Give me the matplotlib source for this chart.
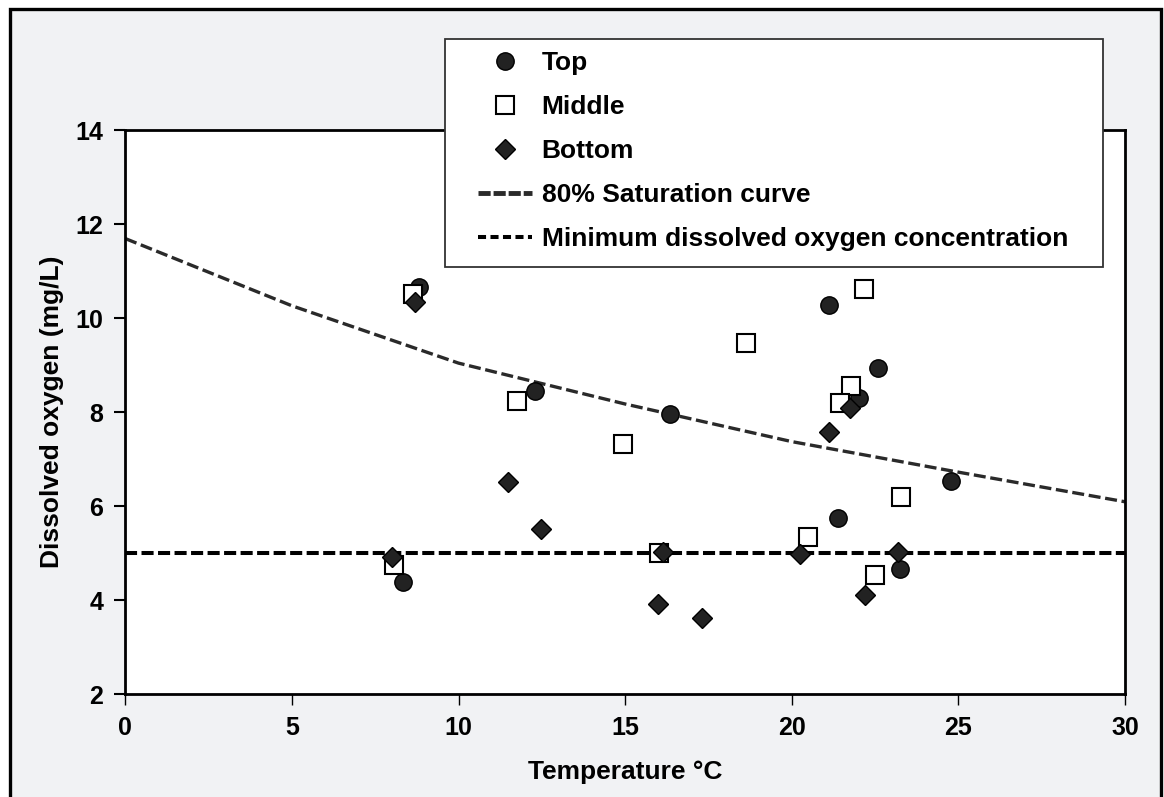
import matplotlib
matplotlib.use("Agg")
import matplotlib.pyplot as plt
from matplotlib.lines import Line2D
from matplotlib.patches import Rectangle

plt.rcParams['font.family'] = ['Liberation Sans', 'DejaVu Sans']
plt.rcParams['font.weight'] = 'bold'

# temperature (C) and dissolved oxygen (mg/L) at each depth
top_temp = [8.81, 8.33, 12.30, 16.35, 21.11, 22.58, 22.03, 24.79, 21.38, 23.26]
top_do = [10.67, 4.38, 8.45, 7.95, 10.28, 8.94, 8.30, 6.53, 5.74, 4.67]

mid_temp = [8.63, 11.76, 14.94, 8.07, 16.01, 22.16, 18.62, 21.77, 21.44, 23.28, 20.49, 22.50]
mid_do = [10.51, 8.24, 7.32, 4.75, 4.99, 10.61, 9.46, 8.55, 8.19, 6.20, 5.34, 4.53]

bot_temp = [8.68, 11.47, 12.47, 7.99, 16.13, 15.99, 17.32, 21.75, 21.11, 20.26, 23.20, 22.20]
bot_do = [10.35, 6.51, 5.51, 4.91, 5.03, 3.91, 3.61, 8.08, 7.57, 4.97, 5.03, 4.10]

# 80% saturation curve
sat_temp = [0, 5, 10, 15, 20, 25, 30]
sat_do = [11.69, 10.26, 9.04, 8.17, 7.37, 6.72, 6.09]

min_do = 5.0

W, H = 1164, 797
fig = plt.figure(figsize=(W / 100, H / 100), dpi=100)
fig.patch.set_facecolor('white')

# grey panel with black border round the chart
fig.add_artist(Rectangle((10 / W, -0.05), (1161 - 10) / W, (H - 9) / H + 0.05,
                         transform=fig.transFigure, facecolor='#f1f2f4',
                         edgecolor='black', lw=2.4, zorder=-2))

ax = fig.add_axes([125.3 / W, (H - 694) / H, (1125 - 125.3) / W, (694 - 130) / H])
ax.set_facecolor('white')

ax.plot(sat_temp, sat_do, color='#2a2a2a', lw=2.4, dashes=(3.6, 1.4), zorder=2)
ax.axhline(min_do, color='black', lw=2.9, dashes=(3.0, 1.1), zorder=2)

ax.plot(top_temp, top_do, 'o', ms=12.5, mfc='#222222', mec='black', mew=1, zorder=3)
ax.plot(mid_temp, mid_do, 's', ms=12.5, mfc='white', mec='black', mew=1.5, zorder=3)
ax.plot(bot_temp, bot_do, 'D', ms=10, mfc='#222222', mec='black', mew=1, zorder=3)

ax.set_xlim(0, 30)
ax.set_ylim(2, 14)
ax.set_xticks([0, 5, 10, 15, 20, 25, 30])
ax.set_yticks([2, 4, 6, 8, 10, 12, 14])
for s in ax.spines.values():
    s.set_linewidth(2)
ax.tick_params(axis='x', length=8, width=1, labelsize=18, pad=8)
ax.tick_params(axis='y', length=8, width=1.5, labelsize=18, pad=8)
ax.set_xlabel('Temperature °C', fontsize=19, fontweight='bold', labelpad=14)
ax.set_ylabel('Dissolved oxygen (mg/L)', fontsize=19, fontweight='bold', labelpad=8)

# legend box
fig.add_artist(Rectangle((445 / W, (H - 267) / H), (1103 - 445) / W, (267 - 39) / H,
                         transform=fig.transFigure, facecolor='white',
                         edgecolor='#333333', lw=1.3, zorder=3))

handles = [
    Line2D([], [], ls='none', marker='o', ms=12.5, mfc='#222222', mec='black'),
    Line2D([], [], ls='none', marker='s', ms=12.5, mfc='white', mec='black', mew=1.5),
    Line2D([], [], ls='none', marker='D', ms=10, mfc='#222222', mec='black'),
    Line2D([], [], color='#2a2a2a', lw=3.5, dashes=(2.5, 0.6)),
    Line2D([], [], color='black', lw=2.9, dashes=(2.0, 1.1)),
]
labels = ['Top', 'Middle', 'Bottom', '80% Saturation curve',
          'Minimum dissolved oxygen concentration']
leg = fig.legend(handles, labels, loc='upper left', bbox_to_anchor=(478 / W, (H - 51) / H),
                 frameon=False, fontsize=19, handlelength=2.05, handletextpad=0.36,
                 labelspacing=0.76, borderpad=0, borderaxespad=0)
leg.set_zorder(5)

fig.savefig('out.png', dpi=100, facecolor=fig.get_facecolor())
